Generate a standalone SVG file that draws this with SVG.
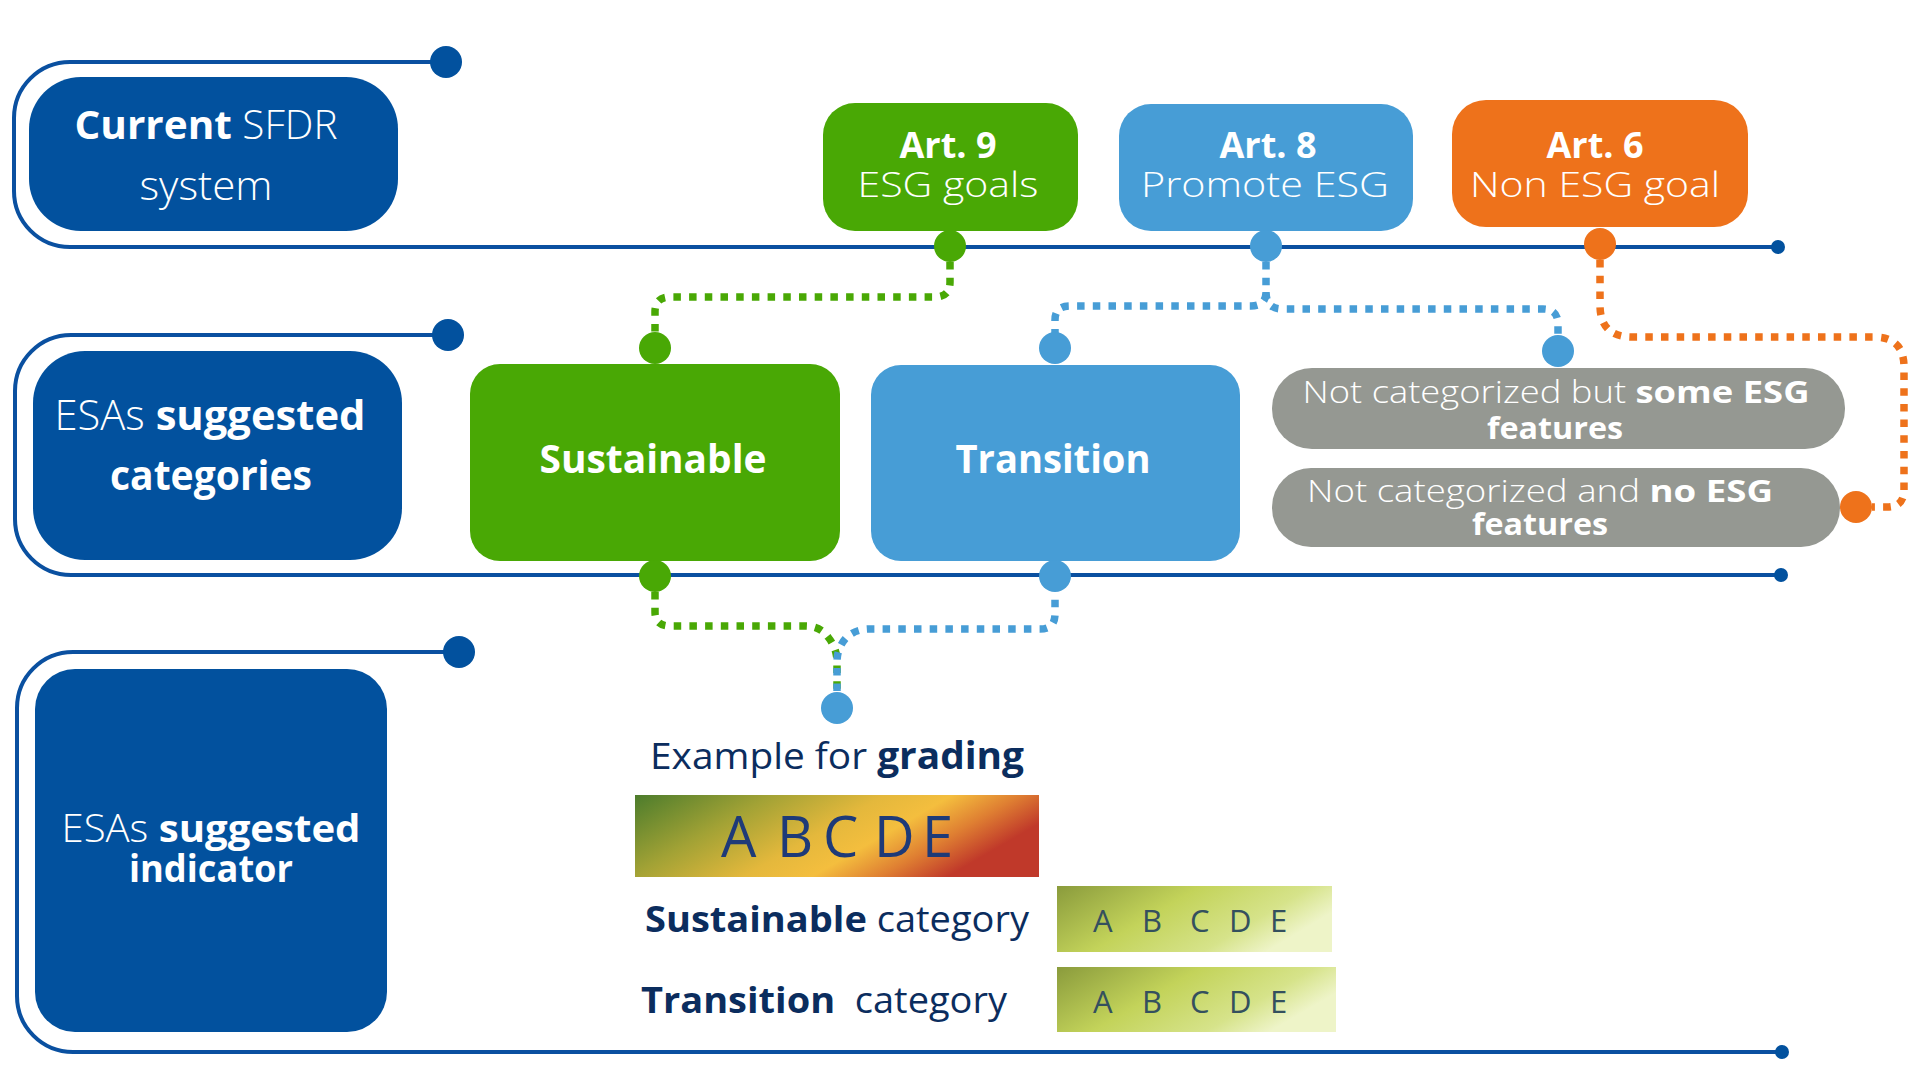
<svg xmlns="http://www.w3.org/2000/svg" width="1920" height="1080" viewBox="0 0 1920 1080">
<style>
.bracket{fill:none;stroke:#0a50a0;stroke-width:4}
.navy{fill:#02519e}
.t{font-family:'Open Sans','Liberation Sans',sans-serif;fill:#fff;text-anchor:middle}
.st{font-family:'Open Sans','Liberation Sans',sans-serif;text-anchor:start}
.l{font-weight:300}
.r{font-weight:400}
.b{font-weight:700}
.dk{fill:#0b2d5e}
.dash{fill:none;stroke-width:7.5;stroke-dasharray:7.5 8.2}
.g{stroke:#49a805}.bl{stroke:#479dd6}.o{stroke:#ee721b}
.gf{fill:#49a805}.blf{fill:#479dd6}.of{fill:#ee721b}
.grey{fill:#959892}
.abc{font-family:'Open Sans','Liberation Sans',sans-serif;font-weight:400}
</style>
<defs>
<linearGradient id="grade" x1="0" y1="0" x2="1" y2="0.35">
<stop offset="0" stop-color="#4c7c2c"/>
<stop offset="0.3" stop-color="#a2a235"/>
<stop offset="0.55" stop-color="#e4b83c"/>
<stop offset="0.7" stop-color="#f4be3e"/>
<stop offset="0.85" stop-color="#df7f32"/>
<stop offset="1" stop-color="#c0392a"/>
</linearGradient>
<linearGradient id="lime" x1="0" y1="0" x2="1" y2="0.4">
<stop offset="0" stop-color="#8a9b3c"/>
<stop offset="0.45" stop-color="#c3d35a"/>
<stop offset="0.8" stop-color="#d6e38a"/>
<stop offset="1" stop-color="#eef4c8"/>
</linearGradient>
</defs>
<rect width="1920" height="1080" fill="#fff"/>

<g id="frames">
<path class="bracket" d="M446,62 H70 A56,56 0 0 0 14,118 V191 A56,56 0 0 0 70,247 H1778"/>
<circle cx="446" cy="62" r="16" class="navy"/>
<circle cx="1778" cy="247" r="7" class="navy"/>
<path class="bracket" d="M448,335 H71 A56,56 0 0 0 15,391 V519 A56,56 0 0 0 71,575 H1781"/>
<circle cx="448" cy="335" r="16" class="navy"/>
<circle cx="1781" cy="575" r="7" class="navy"/>
<path class="bracket" d="M459,652 H73 A56,56 0 0 0 17,708 V996 A56,56 0 0 0 73,1052 H1782"/>
<circle cx="459" cy="652" r="16" class="navy"/>
<circle cx="1782" cy="1052" r="7" class="navy"/>
</g>

<g id="current-sfdr">
<rect x="29" y="77" width="369" height="154" rx="52" class="navy"/>
<text class="t" x="206" y="139" font-size="40" textLength="263" lengthAdjust="spacingAndGlyphs"><tspan class="b">Current</tspan><tspan class="l"> SFDR</tspan></text>
<text class="t l" x="206" y="200" font-size="40" textLength="133" lengthAdjust="spacingAndGlyphs">system</text>
</g>

<g id="art9">
<rect x="823" y="103" width="255" height="128" rx="32" class="gf"/>
<text class="t b" x="948" y="158" font-size="36">Art. 9</text>
<text class="t l" x="948" y="197" font-size="35" textLength="181" lengthAdjust="spacingAndGlyphs">ESG goals</text>
</g>
<g id="art8">
<rect x="1119" y="104" width="294" height="127" rx="32" class="blf"/>
<text class="t b" x="1268" y="158" font-size="36">Art. 8</text>
<text class="t l" x="1265" y="197" font-size="35" textLength="248" lengthAdjust="spacingAndGlyphs">Promote ESG</text>
</g>
<g id="art6">
<rect x="1452" y="100" width="296" height="127" rx="34" class="of"/>
<text class="t b" x="1595" y="158" font-size="36">Art. 6</text>
<text class="t l" x="1595" y="197" font-size="35" textLength="250" lengthAdjust="spacingAndGlyphs">Non ESG goal</text>
</g>

<g id="esas-categories">
<rect x="33" y="351" width="369" height="209" rx="52" class="navy"/>
<text class="t" x="210" y="430" font-size="42" textLength="311" lengthAdjust="spacingAndGlyphs"><tspan class="l">ESAs </tspan><tspan class="b">suggested</tspan></text>
<text class="t b" x="211" y="490" font-size="42" textLength="202" lengthAdjust="spacingAndGlyphs">categories</text>
</g>

<g id="sustainable">
<rect x="470" y="364" width="370" height="197" rx="30" class="gf"/>
<text class="t b" x="653" y="473" font-size="40" textLength="227" lengthAdjust="spacingAndGlyphs">Sustainable</text>
</g>
<g id="transition">
<rect x="871" y="365" width="369" height="196" rx="30" class="blf"/>
<text class="t b" x="1053" y="473" font-size="40" textLength="195" lengthAdjust="spacingAndGlyphs">Transition</text>
</g>

<g id="not-cat-some">
<rect x="1272" y="368" width="573" height="81" rx="40" class="grey"/>
<text class="t" x="1556" y="403" font-size="31" textLength="507" lengthAdjust="spacingAndGlyphs"><tspan class="l">Not categorized but </tspan><tspan class="b">some ESG</tspan></text>
<text class="t b" x="1555" y="439" font-size="31" textLength="136" lengthAdjust="spacingAndGlyphs">features</text>
</g>
<g id="not-cat-no">
<rect x="1272" y="468" width="568" height="79" rx="39" class="grey"/>
<text class="t" x="1540" y="502" font-size="31" textLength="466" lengthAdjust="spacingAndGlyphs"><tspan class="l">Not categorized and </tspan><tspan class="b">no ESG</tspan></text>
<text class="t b" x="1540" y="535" font-size="31" textLength="136" lengthAdjust="spacingAndGlyphs">features</text>
</g>

<g id="esas-indicator">
<rect x="35" y="669" width="352" height="363" rx="40" class="navy"/>
<text class="t" x="211" y="842" font-size="38" textLength="299" lengthAdjust="spacingAndGlyphs"><tspan class="l">ESAs </tspan><tspan class="b">suggested</tspan></text>
<text class="t b" x="211" y="882" font-size="38" textLength="164" lengthAdjust="spacingAndGlyphs">indicator</text>
</g>

<g id="grading">
<text class="t dk" x="837" y="769" font-size="37" textLength="374" lengthAdjust="spacingAndGlyphs"><tspan class="r">Example for </tspan><tspan class="b">grading</tspan></text>
<rect x="635" y="795" width="404" height="82" fill="url(#grade)"/>
<text class="abc" fill="#1e3a78" font-size="56" x="721 777 823 874 922" y="857">ABCDE</text>
<text class="st dk" x="645" y="932" font-size="36" textLength="384" lengthAdjust="spacingAndGlyphs"><tspan class="b">Sustainable</tspan><tspan class="r"> category</tspan></text>
<rect x="1057" y="886" width="275" height="66" fill="url(#lime)"/>
<text class="abc" fill="#34505e" font-size="31" x="1093 1142 1190 1229 1270" y="932">ABCDE</text>
<text class="st dk" x="641" y="1013" font-size="36" textLength="366" lengthAdjust="spacingAndGlyphs" xml:space="preserve"><tspan class="b">Transition</tspan><tspan class="r">  category</tspan></text>
<rect x="1057" y="967" width="279" height="65" fill="url(#lime)"/>
<text class="abc" fill="#34505e" font-size="31" x="1093 1142 1190 1229 1270" y="1013">ABCDE</text>
</g>

<g id="connectors">
<path class="dash g" d="M950,262 V282 Q950,297 935,297 H670 Q655,297 655,312 V334"/>
<path class="dash bl" d="M1266,262 V292 Q1266,306 1251,306 H1070 Q1055,306 1055,320 V334"/>
<path class="dash bl" d="M1266,292 Q1266,309 1282,309 H1543 Q1558,309 1558,324 V338"/>
<path class="dash o" d="M1600,260 V305 Q1600,337 1632,337 H1874 Q1904,337 1904,367 V490 Q1904,507 1887,507 H1872"/>
<path class="dash g" d="M655,592 V612 Q655,626 670,626 H805 Q820,626 828,637 Q837,648 837,662 V694"/>
<path class="dash bl" d="M1055,592 V614 Q1055,629 1040,629 H870 Q855,629 846,638 Q837,648 837,662 V694" stroke-dashoffset="8"/>
<circle cx="950" cy="246" r="16" class="gf"/>
<circle cx="1266" cy="246" r="16" class="blf"/>
<circle cx="1600" cy="244" r="16" class="of"/>
<circle cx="655" cy="348" r="16" class="gf"/>
<circle cx="1055" cy="348" r="16" class="blf"/>
<circle cx="1558" cy="351" r="16" class="blf"/>
<circle cx="1856" cy="507" r="16" class="of"/>
<circle cx="655" cy="576" r="16" class="gf"/>
<circle cx="1055" cy="576" r="16" class="blf"/>
<circle cx="837" cy="708" r="16" class="blf"/>
</g>
</svg>
